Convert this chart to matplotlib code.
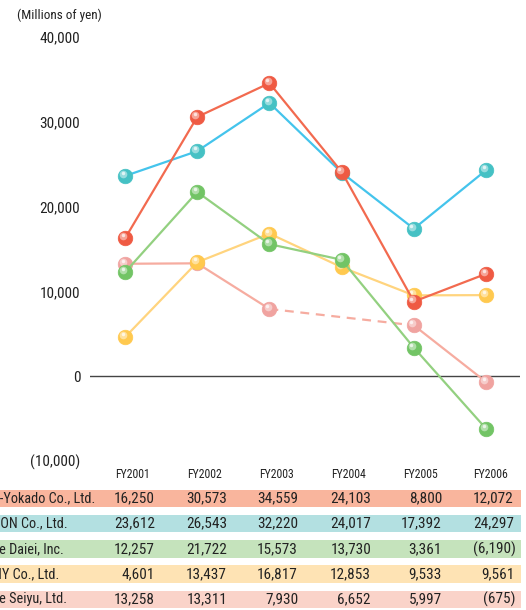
import numpy as np
import matplotlib.pyplot as plt
import matplotlib.transforms as mtransforms
from matplotlib.patches import Rectangle

plt.rcParams['font.family'] = ['Roboto Condensed', 'DejaVu Sans']

years = ['FY2001', 'FY2002', 'FY2003', 'FY2004', 'FY2005', 'FY2006']
companies = ['Ito-Yokado Co., Ltd.', 'AEON Co., Ltd.', 'The Daiei, Inc.',
             'UNY Co., Ltd.', 'The Seiyu, Ltd.']

ito_yokado = [16250, 30573, 34559, 24103, 8800, 12072]
aeon = [23612, 26543, 32220, 24017, 17392, 24297]
daiei = [12257, 21722, 15573, 13730, 3361, -6190]
uny = [4601, 13437, 16817, 12853, 9533, 9561]
seiyu = [13258, 13311, 7930, 6652, 5997, -675]

# line colour, marker colour, table row colour
styles = {
    'Ito-Yokado Co., Ltd.': ('#f26a4f', '#ef5a43', '#f9b59d'),
    'AEON Co., Ltd.': ('#44c4ec', '#45c1c4', '#b3e0e1'),
    'The Daiei, Inc.': ('#93d080', '#72c465', '#c5e3bc'),
    'UNY Co., Ltd.': ('#ffd47e', '#ffc94f', '#fee3b4'),
    'The Seiyu, Ltd.': ('#f6aca0', '#f0a3a0', '#fad3c9'),
}
series = dict(zip(companies, [ito_yokado, aeon, daiei, uny, seiyu]))

fig = plt.figure(figsize=(5.26, 6.10), dpi=100)

# chart area (pixel layout -> figure fractions)
W, H = 526, 610
ax = fig.add_axes([90 / W, 1 - 461 / H, 430 / W, 424 / H])
ax.set_xlim(-0.485, 5.47)
ax.set_ylim(-10000, 40000)
for s in ax.spines.values():
    s.set_visible(False)
ax.set_xticks([])
ax.set_yticks([-10000, 0, 10000, 20000, 30000, 40000])
ax.set_yticklabels(['(10,000)', '0', '10,000', '20,000', '30,000', '40,000'],
                   fontsize=11, color='#222222')
ax.tick_params(axis='y', length=0, pad=7)
ax.axhline(0, color='#444444', lw=1.0, zorder=1)

x = np.arange(len(years))


def spheres(xs, ys, color, z):
    ax.plot(xs, ys, 'o', ms=10.5, mfc=color, mec=color, mew=0.5, zorder=z, clip_on=False)
    hl = mtransforms.offset_copy(ax.transData, fig=fig, x=-1.3, y=1.5, units='points')
    ax.plot(xs, ys, 'o', ms=5.5, mfc='white', mec='none', alpha=0.45,
            transform=hl, zorder=z + 0.1, clip_on=False)
    hl2 = mtransforms.offset_copy(ax.transData, fig=fig, x=-1.8, y=2.2, units='points')
    ax.plot(xs, ys, 'o', ms=2.5, mfc='white', mec='none', alpha=0.7,
            transform=hl2, zorder=z + 0.2, clip_on=False)


order = ['The Seiyu, Ltd.', 'UNY Co., Ltd.', 'The Daiei, Inc.', 'AEON Co., Ltd.',
         'Ito-Yokado Co., Ltd.']
for i, name in enumerate(order):
    lc, mc, _ = styles[name]
    vals = np.array(series[name], dtype=float)
    z = 3 + i * 2
    if name == 'The Seiyu, Ltd.':
        # FY2004 not plotted: dashed bridge FY2003 -> FY2005
        ax.plot(x[:3], vals[:3], color=lc, lw=1.6, zorder=z)
        ax.plot(x[[2, 4]], vals[[2, 4]], color=lc, lw=1.6, ls=(0, (4, 3)), zorder=z)
        ax.plot(x[4:], vals[4:], color=lc, lw=1.6, zorder=z)
        idx = [0, 1, 2, 4, 5]
        spheres(x[idx], vals[idx], mc, z + 0.5)
    else:
        ax.plot(x, vals, color=lc, lw=1.6, zorder=z)
        spheres(x, vals, mc, z + 0.5)

fig.text(17 / W, 1 - 15 / H, '(Millions of yen)', fontsize=9.5, color='#222222',
         va='center', ha='left')

# table
tab = fig.add_axes([0, 0, 1, 1], zorder=-1)
tab.set_xlim(0, W)
tab.set_ylim(H, 0)
tab.axis('off')

col_hdr = [133, 204, 276, 349, 420, 491]
col_right = [155, 227, 298, 371, 442, 514]
for cx, yr in zip(col_hdr, years):
    tab.text(cx, 474, yr, fontsize=8.5, ha='center', va='center', color='#222222')


def fmt(v):
    return f'({abs(v):,})' if v < 0 else f'{v:,}'


for r, name in enumerate(companies):
    yc = 498.5 + r * 25.2
    tab.add_patch(Rectangle((0, yc - 8.7), 521, 17.4, color=styles[name][2], lw=0))
    tab.text(-15, yc, name, fontsize=10.3, ha='left', va='center', color='#222222')
    for cr, v in zip(col_right, series[name]):
        tab.text(cr + (2 if v < 0 else 0), yc, fmt(v), fontsize=11, ha='right',
                 va='center', color='#222222')

fig.savefig('out.png', dpi=100)
